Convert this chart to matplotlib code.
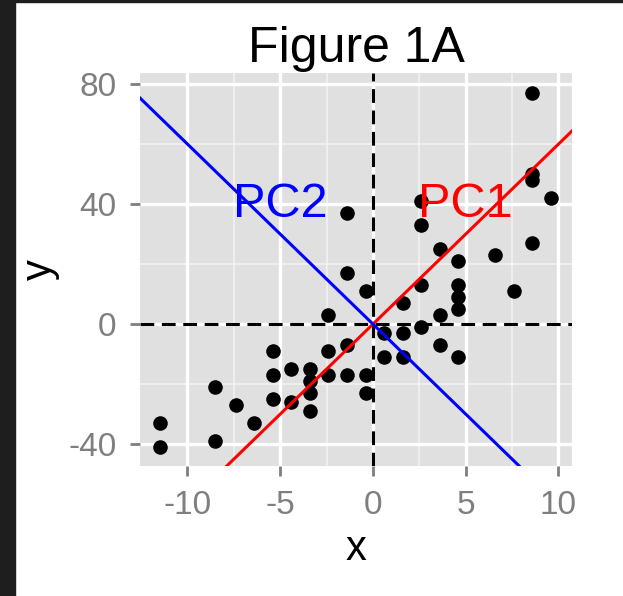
import matplotlib
matplotlib.use("Agg")
import matplotlib.pyplot as plt
from matplotlib.patches import Rectangle

plt.rcParams['font.family'] = ['Liberation Sans', 'DejaVu Sans']

# Data
x = [-11.5, -11.5, -8.5, -8.5, -7.4, -6.4, -5.4, -5.4, -5.4, -4.4, -4.4,
     -3.4, -3.4, -3.4, -3.4, -2.4, -2.4, -2.4, -1.4, -1.4, -1.4, -1.4,
     -0.4, -0.4, -0.4, 0.6, 0.6, 1.6, 1.6, 1.6, 2.6, 2.6, 2.6, 2.6,
     3.6, 3.6, 3.6, 4.6, 4.6, 4.6, 4.6, 4.6, 6.6, 7.6, 8.6, 8.6, 8.6, 8.6, 9.6]
y = [-33, -41, -21, -39, -27, -33, -9, -17, -25, -15, -26,
     -15, -19, -23, -29, 3, -9, -17, 37, 17, -7, -17,
     11, -17, -23, -3, -11, 7, -3, -11, 41, 33, 13, -1,
     25, 3, -7, 21, 13, 9, 5, -11, 23, 11, 77, 50, 48, 27, 42]

pc_slopes = [6.0, -6.0]
pc_names = ["PC1", "PC2"]
pc_colors = ["red", "blue"]
label_x = [5, -5]
label_y = [40, 40]

xticks = [-10, -5, 0, 5, 10]
yticks = [-40, 0, 40, 80]

fig = plt.figure(figsize=(6.23, 5.96), dpi=100)
fig.patches.append(Rectangle((0, 0), 15 / 623, 1, transform=fig.transFigure,
                             color="#1e1e1e", zorder=-1))
fig.patches.append(Rectangle((0, 1 - 2 / 596), 1, 2 / 596, transform=fig.transFigure,
                             color="#1e1e1e", zorder=-1))

ax = fig.add_axes([140 / 623, 1 - 466 / 596, 432 / 623, 393 / 596])
ax.set_facecolor("#e0e0e0")
for s in ax.spines.values():
    s.set_visible(False)

ax.set_xlim(-12.56, 10.73)
ax.set_ylim(-47.3, 83.7)

# grid
for v in [-7.5, -2.5, 2.5, 7.5]:
    ax.axvline(v, color="#f2f2f2", lw=1.2, zorder=0)
for v in [-20, 20, 60]:
    ax.axhline(v, color="#f2f2f2", lw=1.2, zorder=0)
for v in xticks:
    ax.axvline(v, color="white", lw=2.4, zorder=0)
for v in yticks:
    ax.axhline(v, color="white", lw=2.4, zorder=0)

ax.axhline(0, color="black", lw=2.2, ls=(0, (4.5, 2.5)), zorder=1)
ax.axvline(0, color="black", lw=2.2, ls=(0, (4.5, 2.5)), zorder=1)

ax.scatter(x, y, s=110, color="black", zorder=3, linewidths=0)

for slope, name, col, lx, ly in zip(pc_slopes, pc_names, pc_colors, label_x, label_y):
    ax.axline((0, 0), slope=slope, color=col, lw=2.2, zorder=4)
    ax.text(lx, ly, name, color=col, fontsize=35, ha="center", va="center", zorder=5)

ax.set_xticks(xticks)
ax.set_yticks(yticks)
ax.set_xticklabels([str(t) for t in xticks])
ax.set_yticklabels([str(t) for t in yticks])
ax.tick_params(colors="#7f7f7f", labelcolor="#7f7f7f", labelsize=24,
               length=7, width=2, pad=10)

ax.set_xlabel("x", fontsize=30, labelpad=6)
ax.set_ylabel("y", fontsize=30, labelpad=6)
ax.set_title("Figure 1A", fontsize=36, pad=8)

fig.savefig("out.png", dpi=100)
